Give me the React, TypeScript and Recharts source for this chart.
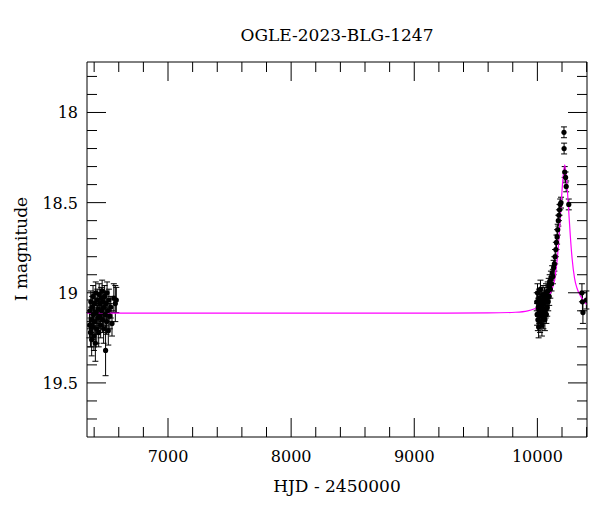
import React from 'react';
import { ComposedChart, Scatter, Line, XAxis, YAxis, ErrorBar } from 'recharts';

// OGLE photometry, season 1 (baseline)
const baseHjd = [6362, 6366, 6370, 6373, 6376, 6380, 6384, 6387, 6391, 6395, 6398, 6402, 6406, 6410, 6413, 6417, 6421, 6425, 6429, 6433, 6437, 6441, 6445, 6449, 6453, 6457, 6461, 6465, 6469, 6473, 6477, 6481, 6485, 6489, 6493, 6497, 6501, 6505, 6510, 6515, 6520, 6527, 6535, 6545, 6560, 6572, 6580];
const baseMag = [19.18, 19.10, 19.22, 19.05, 19.15, 19.26, 19.08, 19.19, 19.02, 19.12, 19.24, 19.06, 19.16, 19.28, 19.00, 19.11, 19.20, 19.04, 19.14, 19.09, 19.22, 19.01, 19.13, 19.06, 19.18, 19.03, 19.10, 18.99, 19.15, 19.05, 19.20, 19.08, 19.02, 19.12, 19.32, 19.06, 19.16, 19.00, 19.10, 19.21, 19.04, 19.13, 19.08, 19.17, 19.03, 19.06, 19.04];
const baseErr = [0.07, 0.06, 0.08, 0.06, 0.07, 0.09, 0.06, 0.07, 0.06, 0.07, 0.08, 0.06, 0.07, 0.1, 0.06, 0.06, 0.08, 0.06, 0.07, 0.06, 0.08, 0.06, 0.07, 0.06, 0.07, 0.06, 0.06, 0.06, 0.07, 0.06, 0.08, 0.06, 0.06, 0.07, 0.14, 0.06, 0.07, 0.06, 0.06, 0.08, 0.06, 0.07, 0.06, 0.07, 0.08, 0.1, 0.07];

// season with the event
const eventHjd = [9995, 9998, 10001, 10004, 10007, 10010, 10013, 10016, 10019, 10022, 10025, 10028, 10031, 10034, 10037, 10040, 10043, 10046, 10049, 10052, 10055, 10058, 10061, 10064, 10067, 10070, 10073, 10076, 10080, 10084, 10088, 10092, 10096, 10100, 10105, 10110, 10115, 10120, 10126, 10132, 10138, 10144, 10150, 10155, 10160, 10165, 10170, 10175, 10180, 10185, 10192, 10216, 10217, 10222, 10229, 10234, 10255, 10362, 10366, 10370, 10398];
const eventMag = [19.05, 19.12, 19.00, 19.15, 19.08, 19.19, 19.03, 19.11, 19.06, 19.16, 18.98, 19.09, 19.13, 19.04, 19.18, 19.07, 19.12, 19.01, 19.14, 19.06, 19.10, 19.02, 19.15, 19.05, 19.09, 19.00, 19.12, 19.04, 19.08, 18.99, 19.05, 18.96, 19.02, 18.94, 18.98, 18.92, 18.95, 18.89, 18.91, 18.86, 18.84, 18.80, 18.76, 18.72, 18.69, 18.65, 18.60, 18.57, 18.54, 18.51, 18.50, 18.11, 18.20, 18.33, 18.36, 18.41, 18.51, 19.00, 19.05, 19.11, 19.04];
const eventErr = [0.05, 0.06, 0.05, 0.06, 0.05, 0.06, 0.05, 0.06, 0.05, 0.06, 0.05, 0.05, 0.06, 0.05, 0.06, 0.05, 0.05, 0.05, 0.06, 0.05, 0.05, 0.05, 0.06, 0.05, 0.05, 0.05, 0.05, 0.05, 0.05, 0.05, 0.05, 0.04, 0.05, 0.04, 0.05, 0.04, 0.04, 0.04, 0.04, 0.04, 0.04, 0.04, 0.04, 0.04, 0.04, 0.03, 0.03, 0.03, 0.03, 0.03, 0.03, 0.03, 0.03, 0.03, 0.03, 0.03, 0.03, 0.05, 0.05, 0.06, 0.05];

// model curve
const modelHjd = [6342, 9000, 9600, 9822, 9922, 9972, 10022, 10062, 10092, 10122, 10142, 10162, 10177, 10192, 10207, 10222, 10237, 10252, 10267, 10282, 10302, 10322, 10352, 10382, 10403];
const modelMag = [19.113, 19.113, 19.112, 19.108, 19.100, 19.090, 19.075, 19.045, 19.020, 18.975, 18.920, 18.810, 18.680, 18.520, 18.370, 18.290, 18.370, 18.520, 18.680, 18.810, 18.920, 18.975, 19.020, 19.050, 19.065];

const xLabels = [7000, 8000, 9000, 10000];
const xTicks = [6400, 6600, 6800, 7000, 7200, 7400, 7600, 7800, 8000, 8200, 8400, 8600, 8800, 9000, 9200, 9400, 9600, 9800, 10000, 10200, 10400];
const yLabels = [18, 18.5, 19, 19.5];
const yTicks = [17.8, 17.9, 18, 18.1, 18.2, 18.3, 18.4, 18.5, 18.6, 18.7, 18.8, 18.9, 19, 19.1, 19.2, 19.3, 19.4, 19.5, 19.6, 19.7];

const points = [
  ...baseHjd.map((h, i) => ({ hjd: h, mag: baseMag[i], err: baseErr[i] })),
  ...eventHjd.map((h, i) => ({ hjd: h, mag: eventMag[i], err: eventErr[i] })),
];
const model = modelHjd.map((h, i) => ({ hjd: h, mag: modelMag[i] }));

const FONT = 'DejaVu Serif';
const MAJOR = 19;
const MINOR = 10;

const xTick = (top: boolean) => (props: any) => {
  const { x, y, payload } = props;
  const major = xLabels.includes(payload.value);
  const len = major ? MAJOR : MINOR;
  const d = top ? 1 : -1;
  return (
    <g>
      <line x1={x} x2={x} y1={y} y2={y + d * len} stroke="#000" />
      {!top && major && (
        <text x={x} y={y + 25} textAnchor="middle" fontFamily={FONT} fontSize={16} fill="#000">
          {payload.value}
        </text>
      )}
    </g>
  );
};

const yTick = (right: boolean) => (props: any) => {
  const { x, y, payload } = props;
  const major = yLabels.some((v) => Math.abs(v - payload.value) < 1e-6);
  const len = major ? MAJOR : MINOR;
  const d = right ? -1 : 1;
  return (
    <g>
      <line x1={x} x2={x + d * len} y1={y} y2={y} stroke="#000" />
      {!right && major && (
        <text x={x - 9} y={y + 6} textAnchor="end" fontFamily={FONT} fontSize={16} fill="#000">
          {payload.value}
        </text>
      )}
    </g>
  );
};

const Dot = (props: any) => <circle cx={props.cx} cy={props.cy} r={2.6} fill="#000" />;

export default function App() {
  const xDomain = [6342, 10403];
  const yDomain = [17.72, 19.8];
  return (
    <div style={{ position: 'absolute', left: 0, top: 0, width: 600, height: 512, background: '#fff' }}>
      <ComposedChart width={600} height={512} margin={{ top: 61, right: 12, bottom: 45, left: 0 }}>
        <XAxis
          dataKey="hjd"
          type="number"
          domain={xDomain}
          allowDataOverflow
          ticks={xTicks}
          interval={0}
          height={30}
          tickSize={0}
          tickMargin={0}
          tickLine={false}
          axisLine={{ stroke: '#000' }}
          tick={xTick(false)}
        />
        <XAxis
          xAxisId="top"
          orientation="top"
          dataKey="hjd"
          type="number"
          domain={xDomain}
          allowDataOverflow
          ticks={xTicks}
          interval={0}
          height={1}
          tickSize={0}
          tickMargin={0}
          tickLine={false}
          axisLine={{ stroke: '#000' }}
          tick={xTick(true)}
        />
        <YAxis
          dataKey="mag"
          type="number"
          domain={yDomain}
          reversed
          allowDataOverflow
          ticks={yTicks}
          interval={0}
          width={87}
          tickSize={0}
          tickMargin={0}
          tickLine={false}
          axisLine={{ stroke: '#000' }}
          tick={yTick(false)}
        />
        <YAxis
          yAxisId="right"
          orientation="right"
          dataKey="mag"
          type="number"
          domain={yDomain}
          reversed
          allowDataOverflow
          ticks={yTicks}
          interval={0}
          width={1}
          tickSize={0}
          tickMargin={0}
          tickLine={false}
          axisLine={{ stroke: '#000' }}
          tick={yTick(true)}
        />
        <Scatter data={points} dataKey="mag" shape={Dot} isAnimationActive={false}>
          <ErrorBar dataKey="err" direction="y" width={3} stroke="#000" strokeWidth={1} isAnimationActive={false} />
        </Scatter>
        <Line
          data={model}
          dataKey="mag"
          type="monotone"
          stroke="#ff00ff"
          strokeWidth={1.2}
          dot={false}
          activeDot={false}
          isAnimationActive={false}
        />
      </ComposedChart>
      <svg width={600} height={512} style={{ position: 'absolute', left: 0, top: 0, pointerEvents: 'none' }}>
        <text x={337} y={41} textAnchor="middle" fontFamily={FONT} fontSize={17} fill="#000">
          OGLE-2023-BLG-1247
        </text>
        <text x={337} y={492} textAnchor="middle" fontFamily={FONT} fontSize={17} fill="#000">
          HJD - 2450000
        </text>
        <text x={27} y={249} textAnchor="middle" fontFamily={FONT} fontSize={17} fill="#000" transform="rotate(-90 27 249)">
          I magnitude
        </text>
      </svg>
    </div>
  );
}
